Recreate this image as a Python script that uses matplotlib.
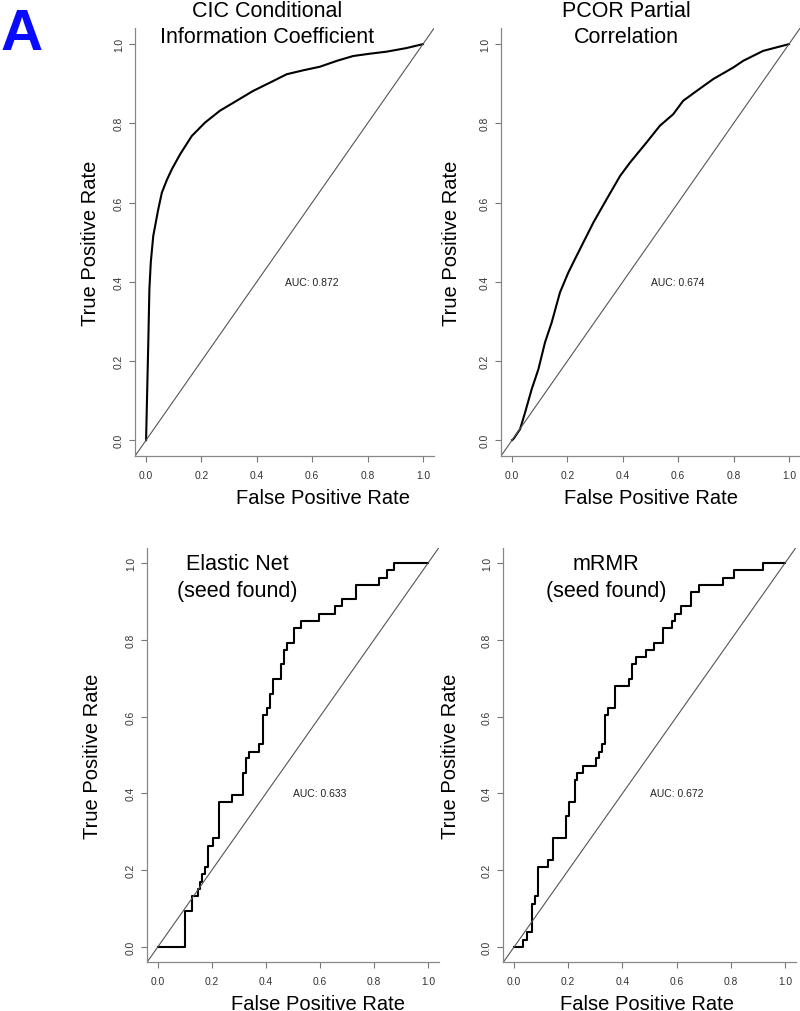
# ROC curves for four network-inference methods (panel A)

import numpy as np
from matplotlib import pyplot as plt

plt.rcParams["font.family"] = ["Liberation Sans", "DejaVu Sans"]

# CIC curve (FPR, TPR)
cic_fpr = [0.0, 0.008, 0.012, 0.017, 0.026, 0.044, 0.057, 0.075, 0.093, 0.123,
           0.165, 0.213, 0.267, 0.327, 0.387, 0.448, 0.508, 0.568, 0.628, 0.690,
           0.748, 0.810, 0.869, 0.940, 1.0]
cic_tpr = [0.0, 0.247, 0.381, 0.449, 0.516, 0.583, 0.625, 0.657, 0.684, 0.722,
           0.768, 0.802, 0.832, 0.857, 0.882, 0.903, 0.924, 0.934, 0.943, 0.958,
           0.970, 0.976, 0.981, 0.990, 1.0]

# PCOR curve
pcor_fpr = [0.0, 0.005, 0.029, 0.047, 0.071, 0.095, 0.119, 0.143, 0.173, 0.203,
            0.227, 0.245, 0.294, 0.342, 0.390, 0.426, 0.486, 0.534, 0.582, 0.618,
            0.667, 0.727, 0.799, 0.835, 0.907, 1.0]
pcor_tpr = [0.0, 0.003, 0.028, 0.070, 0.129, 0.179, 0.247, 0.297, 0.373, 0.423,
            0.457, 0.482, 0.550, 0.609, 0.667, 0.701, 0.752, 0.794, 0.823, 0.857,
            0.882, 0.912, 0.941, 0.958, 0.983, 1.0]

# Elastic Net step curve (corners where each vertical rise ends)
enet_fpr = [0.0, 0.101, 0.126, 0.150, 0.157, 0.163, 0.175, 0.187, 0.203, 0.227,
            0.276, 0.317, 0.327, 0.339, 0.376, 0.388, 0.403, 0.416, 0.428, 0.455,
            0.466, 0.477, 0.504, 0.529, 0.597, 0.656, 0.681, 0.734, 0.820, 0.847,
            0.874, 1.0]
enet_tpr = [0.0, 0.094, 0.132, 0.151, 0.170, 0.189, 0.208, 0.264, 0.283, 0.377,
            0.396, 0.453, 0.491, 0.509, 0.528, 0.604, 0.623, 0.660, 0.698, 0.736,
            0.774, 0.792, 0.830, 0.849, 0.868, 0.887, 0.906, 0.943, 0.962, 0.981,
            1.0, 1.0]

# mRMR step curve
mrmr_fpr = [0.0, 0.034, 0.047, 0.065, 0.078, 0.090, 0.124, 0.145, 0.191, 0.201,
            0.225, 0.234, 0.256, 0.303, 0.314, 0.326, 0.336, 0.348, 0.373, 0.424,
            0.437, 0.449, 0.486, 0.517, 0.551, 0.584, 0.594, 0.616, 0.652, 0.684,
            0.772, 0.810, 0.920, 1.0]
mrmr_tpr = [0.0, 0.019, 0.038, 0.113, 0.132, 0.208, 0.226, 0.283, 0.340, 0.377,
            0.434, 0.453, 0.472, 0.491, 0.509, 0.528, 0.604, 0.623, 0.679, 0.698,
            0.736, 0.755, 0.774, 0.792, 0.830, 0.849, 0.868, 0.887, 0.925, 0.943,
            0.962, 0.981, 1.0, 1.0]

titles = [("CIC Conditional", "Information Coefficient"),
          ("PCOR Partial", "Correlation"),
          ("Elastic Net", "(seed found)"),
          ("mRMR", "(seed found)")]
auc_labels = ["AUC: 0.872", "AUC: 0.674", "AUC: 0.633", "AUC: 0.672"]

fig = plt.figure(figsize=(8, 10.12), dpi=100)

# axes rectangles, title spots and label spots per panel
panels = [
    dict(rect=[0.16875, 0.54842, 0.37375, 0.42263], tx=0.441, ty=(1.029, 0.968),
         xl=0.629, yl=-0.15),
    dict(rect=[0.62625, 0.54842, 0.37375, 0.42263], tx=0.418, ty=(1.029, 0.968),
         xl=0.50, yl=-0.167),
    dict(rect=[0.18363, 0.04802, 0.365, 0.40988], tx=0.309, ty=(0.948, 0.883),
         xl=0.586, yl=-0.185),
    dict(rect=[0.629, 0.04802, 0.3659, 0.40988], tx=0.351, ty=(0.948, 0.883),
         xl=0.491, yl=-0.18),
]
curves = [(cic_fpr, cic_tpr, False), (pcor_fpr, pcor_tpr, False),
          (enet_fpr, enet_tpr, True), (mrmr_fpr, mrmr_tpr, True)]

for i, p in enumerate(panels):
    ax = fig.add_axes(p["rect"])
    fx, ty, stepped = curves[i]
    if stepped:
        ax.step(fx, ty, where="post", color="black", lw=1.5)
    else:
        ax.plot(fx, ty, color="black", lw=1.5)
    ax.axline((0, 0), (1, 1), color="#555555", lw=0.8)
    ax.text(0.6, 0.4, auc_labels[i], ha="center", va="center", fontsize=7.5,
            color="#222222")

    ax.set_xlim(-0.04, 1.04)
    ax.set_ylim(-0.04, 1.04)
    ticks = [0.0, 0.2, 0.4, 0.6, 0.8, 1.0]
    ax.set_xticks(ticks)
    ax.set_yticks(ticks)
    ax.set_xticklabels(["%.1f" % t for t in ticks])
    ax.set_yticklabels(["%.1f" % t for t in ticks], rotation=90, va="center")
    ax.tick_params(axis="both", length=4, width=0.8, color="#777777",
                   labelsize=7.4, labelcolor="#333333")
    ax.tick_params(axis="x", pad=6)
    ax.tick_params(axis="y", pad=4)
    for s in ["top", "right"]:
        ax.spines[s].set_visible(False)
    for s in ["left", "bottom"]:
        ax.spines[s].set_color("#888888")
        ax.spines[s].set_linewidth(0.9)

    ax.set_xlabel("False Positive Rate", fontsize=14.5, va="center")
    ax.xaxis.set_label_coords(p["xl"], -0.098)
    ax.set_ylabel("True Positive Rate", fontsize=14.5, va="center")
    ax.yaxis.set_label_coords(p["yl"], 0.5)

    t1, t2 = titles[i]
    ax.text(p["tx"], p["ty"][0], t1, transform=ax.transAxes, ha="center",
            va="baseline", fontsize=15.5, clip_on=False)
    ax.text(p["tx"], p["ty"][1], t2, transform=ax.transAxes, ha="center",
            va="baseline", fontsize=15.5, clip_on=False)

fig.text(0.001, 1 - 50 / 1012, "A", ha="left", va="baseline", fontsize=42,
         fontweight="bold", color="#0a0aff")

plt.savefig("out.png", dpi=100)
# plt.show()
